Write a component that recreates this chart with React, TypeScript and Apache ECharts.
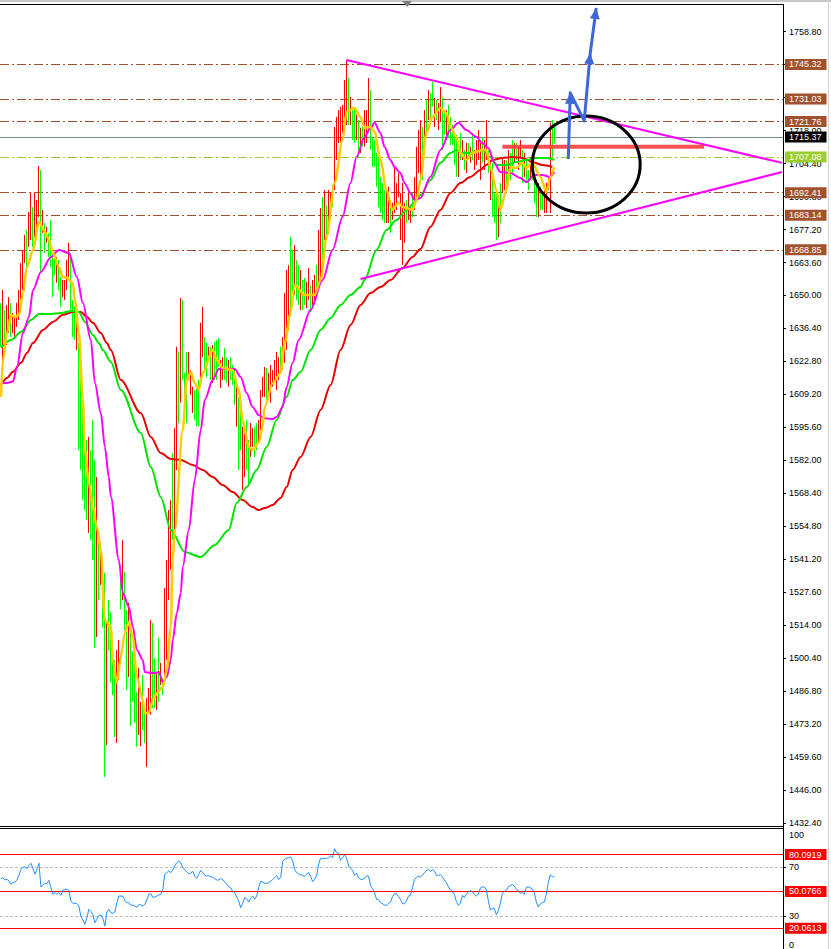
import React, { useEffect, useRef } from 'react';
import * as echarts from 'echarts';

const FONT = "'Liberation Sans', Arial, sans-serif";

// ---- axis ticks ----
const priceTicks = [1432.4, 1446.0, 1459.6, 1473.2, 1486.8, 1500.4, 1514.0, 1527.6, 1541.2, 1554.8, 1568.4, 1582.0, 1595.6, 1609.2, 1622.8, 1636.4, 1650.0, 1663.6, 1677.2, 1690.8, 1704.4, 1718.0, 1731.6, 1745.2, 1758.8];
const rsiTicks = [30, 70];

// ---- price bars (high / low / direction R=up G=down) ----
const barHigh = [
  1646.9, 1652.3, 1644.0, 1646.1, 1649.4, 1646.9, 1642.8, 1641.1, 1646.9, 1652.3,
  1663.4, 1668.8, 1675.0, 1677.0, 1684.4, 1692.3, 1686.5, 1692.3, 1689.4, 1703.4,
  1701.8, 1685.3, 1679.9, 1678.3, 1675.8, 1681.1, 1668.8, 1666.7, 1665.9, 1664.6,
  1657.6, 1656.4, 1656.4, 1664.6, 1671.7, 1667.5, 1648.1, 1645.3, 1641.1, 1630.4,
  1623.4,
  1613.9, 1594.5, 1590.4, 1591.6, 1586.3, 1598.6, 1582.1, 1575.1, 1549.1, 1547.9,
  1535.5, 1535.5, 1515.3, 1524.4, 1519.4, 1507.9, 1499.6, 1503.8, 1507.9, 1533.9,
  1549.1, 1535.9, 1520.3, 1523.2, 1513.3, 1503.0, 1501.7, 1486.4, 1496.3, 1482.3,
  1493.5, 1480.3, 1484.0, 1488.1, 1516.1, 1514.9, 1500.5, 1494.7, 1508.7, 1498.4,
  1492.2, 1529.3,
  1540.9, 1561.5, 1565.6, 1585.0, 1595.3, 1628.8, 1626.7, 1649.0, 1648.1, 1618.0,
  1626.7, 1626.7, 1619.3, 1612.3, 1611.0, 1612.3, 1615.1, 1638.7, 1645.3, 1632.9,
  1630.4, 1628.8, 1628.8, 1629.6, 1630.8, 1631.6, 1632.5, 1623.4, 1624.6, 1628.3,
  1624.2, 1623.4, 1624.6, 1621.3, 1620.1, 1615.1, 1608.1, 1602.8,
  1595.8, 1593.3, 1598.6, 1590.4, 1597.4, 1595.3, 1595.8, 1597.4, 1598.6, 1611.0,
  1616.4, 1620.5, 1620.1, 1618.0, 1621.3, 1619.3, 1623.4, 1626.7, 1624.6, 1628.8,
  1632.9, 1651.0, 1660.5, 1662.6, 1674.1,
  1668.8, 1670.8, 1664.6, 1662.6, 1660.5, 1656.4, 1657.2, 1655.6, 1661.3, 1654.3,
  1656.4, 1658.5, 1662.6, 1677.0, 1686.1, 1690.6, 1693.5, 1687.3, 1693.5, 1692.7,
  1695.6, 1719.5, 1723.6, 1726.5, 1727.8,
  1728.6, 1738.9, 1747.1, 1739.7, 1731.9, 1727.8, 1727.3, 1724.5, 1722.4, 1719.1,
  1719.5, 1726.5, 1726.5, 1739.7, 1734.8, 1715.4, 1714.1, 1708.8, 1707.1, 1698.9,
  1696.4, 1693.5, 1693.5, 1694.8, 1688.2, 1688.2, 1703.0, 1696.4, 1700.5, 1692.3,
  1696.4, 1688.2, 1689.4, 1693.5, 1686.5, 1692.3, 1698.9, 1711.3, 1718.3, 1722.4,
  1719.5, 1726.5, 1730.6, 1734.8, 1733.5, 1738.1, 1731.5, 1730.6, 1729.4, 1736.0,
  1731.9, 1726.5, 1726.5, 1728.6, 1723.6, 1720.3, 1717.0, 1716.2, 1712.9, 1717.0,
  1714.1, 1710.0, 1712.9, 1712.9, 1711.3, 1717.0, 1710.0, 1714.1, 1718.3, 1712.9,
  1715.4, 1714.1, 1722.4, 1710.0, 1705.9, 1704.7, 1692.3, 1693.5, 1689.4, 1696.4,
  1707.1, 1705.9, 1705.9, 1710.0, 1708.8, 1714.1, 1712.9, 1712.9, 1711.3, 1714.1,
  1710.0, 1708.8, 1705.9, 1701.8, 1707.1, 1708.8, 1700.5, 1696.4, 1696.4, 1694.8,
  1692.3, 1693.5, 1696.4, 1698.9, 1721.2, 1722.4, 1721.2,
];
const barLow = [
  1628.8, 1619.3, 1628.8, 1629.6, 1634.5, 1632.9, 1634.5, 1632.9, 1637.0, 1639.9,
  1648.1, 1652.3, 1663.4, 1660.5, 1670.0, 1672.9, 1670.0, 1674.1, 1675.8, 1682.4,
  1659.3, 1675.8, 1667.5, 1671.7, 1665.9, 1661.8, 1649.4, 1658.5, 1655.2, 1652.3,
  1645.3, 1649.4, 1648.1, 1652.3, 1657.6, 1644.0, 1632.9, 1631.6, 1627.5, 1586.3,
  1578.0,
  1565.6, 1561.5, 1557.4, 1552.0, 1549.1, 1540.9, 1504.6, 1509.1, 1524.4, 1530.6,
  1512.9, 1451.4, 1464.6, 1503.8, 1490.6, 1485.2, 1467.9, 1465.4, 1491.4, 1520.7,
  1524.4, 1512.0, 1487.3, 1492.6, 1472.4, 1482.3, 1473.7, 1463.8, 1468.7, 1464.2,
  1470.8, 1465.4, 1455.5, 1478.2, 1477.0, 1479.8, 1479.8, 1479.0, 1482.3, 1489.3,
  1485.2, 1491.4,
  1499.6, 1524.4, 1536.8, 1549.1, 1553.3, 1578.0, 1597.4, 1605.7, 1615.1, 1601.5,
  1597.4, 1615.1, 1609.0, 1601.5, 1598.6, 1595.8, 1595.8, 1613.9, 1624.6, 1618.0,
  1616.4, 1623.4, 1615.1, 1613.9, 1615.1, 1615.1, 1620.5, 1611.8, 1615.1, 1615.1,
  1613.9, 1612.3, 1615.1, 1613.1, 1604.8, 1595.8, 1578.0, 1586.3,
  1569.8, 1575.1, 1578.0, 1571.8, 1583.4, 1587.5, 1583.4, 1586.3, 1589.2, 1594.5,
  1608.1, 1608.1, 1606.9, 1608.1, 1605.7, 1612.3, 1613.9, 1611.0, 1615.1, 1618.0,
  1619.3, 1622.2, 1627.5, 1635.8, 1642.8,
  1648.1, 1650.2, 1648.1, 1646.1, 1644.0, 1644.0, 1646.1, 1644.8, 1648.1, 1643.2,
  1646.1, 1648.1, 1650.2, 1652.3, 1656.4, 1664.6, 1672.9, 1675.0, 1679.9, 1684.0,
  1686.5, 1693.5, 1705.9, 1712.9, 1711.3,
  1717.0, 1720.3, 1720.3, 1720.3, 1720.3, 1714.1, 1712.9, 1714.1, 1707.1, 1708.8,
  1711.3, 1711.3, 1712.9, 1717.0, 1710.0, 1703.0, 1703.0, 1694.8, 1686.5, 1684.0,
  1681.1, 1679.9, 1679.9, 1679.9, 1675.8, 1681.1, 1684.0, 1685.3, 1690.6, 1672.9,
  1662.6, 1671.7, 1679.9, 1681.1, 1679.9, 1682.4, 1685.3, 1690.6, 1700.5, 1697.6,
  1697.6, 1710.0, 1717.0, 1722.4, 1721.2, 1727.8, 1719.5, 1722.4, 1718.3, 1721.6,
  1710.0, 1716.2, 1714.1, 1715.0, 1712.1, 1712.1, 1703.8, 1698.9, 1698.9, 1705.9,
  1705.9, 1701.8, 1700.5, 1705.9, 1704.7, 1705.9, 1701.8, 1703.8, 1705.9, 1697.6,
  1704.7, 1701.8, 1705.9, 1700.5, 1689.4, 1682.4, 1679.9, 1672.9, 1674.1, 1679.9,
  1692.3, 1693.5, 1693.5, 1698.9, 1697.6, 1700.5, 1704.7, 1705.9, 1701.8, 1707.1,
  1696.4, 1698.9, 1696.4, 1693.5, 1697.6, 1697.6, 1688.2, 1682.4, 1682.4, 1685.3,
  1685.3, 1684.0, 1684.0, 1693.5, 1684.0, 1707.1, 1712.9,
];
const barDirs =
  'GRGRRGRRRR' + 'RRRGRRGRRR' + 'GRGRGGGGRG' + 'GRRRRGGGRG' + 'G' +
  'GGGRGGGRGR' + 'GGRGGGGRRG' + 'RGGRGGGGRR' + 'GGRRRGGRGR' + 'GR' +
  'RRRGRRGRGG' + 'GRRRGGGRRG' + 'GRGRGGGRRG' + 'GRGGGRGG' +
  'RRGGRRGGRR' + 'RRGRRRRRRG' + 'RRRRG' +
  'GRGGRGGRRG' + 'RRGRRGRGRR' + 'GRRRR' +
  'RRRGRGGRGR' + 'GRRRGGGGGG' + 'GGRRGRRRRR' + 'RRGRRGRRRR' +
  'GRGRGGRGRR' + 'GGRGGGGGRG' + 'RGRGRGRRRR' + 'GRRGRGGGRG' + 'RRGRGGRGRR' + 'GRGGRGGGRG' + 'GRRRRGG';

// ---- moving averages [bar index, price] ----
const maYellow = [
  [0, 1608.1], [1, 1623.4], [3, 1634.5], [5, 1641.9], [7, 1641.1], [9, 1641.9], [11, 1651.0], [13, 1661.7], [16, 1668.8], [19, 1680.3],
  [22, 1676.2], [24, 1672.9], [26, 1667.5], [29, 1661.7], [31, 1657.6], [33, 1657.2], [36, 1655.1], [37, 1648.1], [39, 1634.5], [41, 1606.9],
  [42, 1586.3], [44, 1572.6], [46, 1562.7], [48, 1554.5], [50, 1545.0], [52, 1516.1], [55, 1513.3], [56, 1499.6],
  [58, 1490.2], [60, 1500.9], [62, 1510.8], [64, 1515.3], [66, 1509.1], [68, 1492.6], [71, 1483.1], [72, 1477.8], [74, 1477.8], [76, 1483.1],
  [78, 1486.0], [81, 1488.5], [83, 1495.5], [85, 1513.3], [86, 1540.9], [87, 1553.3], [91, 1594.5], [93, 1615.1], [95, 1618.4], [97, 1613.9],
  [99, 1611.0], [101, 1618.0], [106, 1627.5], [108, 1623.4], [111, 1620.1], [116, 1619.3], [119, 1611.0], [121, 1598.6], [124, 1587.5], [126, 1586.3],
  [129, 1589.2], [131, 1595.8], [132, 1604.0], [136, 1613.9], [140, 1618.0], [142, 1630.4], [145, 1642.8], [147, 1654.3], [152, 1650.2], [157, 1650.2],
  [160, 1656.4], [163, 1674.1], [167, 1696.4], [171, 1714.1], [173, 1725.7], [177, 1727.3], [180, 1723.6], [182, 1719.1], [185, 1719.5], [187, 1717.5],
  [190, 1705.9], [193, 1693.5], [196, 1685.3], [199, 1688.2], [201, 1686.5], [206, 1685.3], [208, 1689.4], [210, 1697.6], [213, 1717.0], [216, 1723.6],
  [220, 1727.3], [223, 1725.3], [225, 1719.5], [228, 1715.4], [230, 1708.8], [233, 1705.9], [236, 1708.8], [241, 1710.0], [243, 1710.0], [245, 1703.0],
  [248, 1693.5], [250, 1685.3], [253, 1693.5], [255, 1703.0], [258, 1702.6], [261, 1704.7], [263, 1702.6], [266, 1704.7], [270, 1698.9], [273, 1692.7],
  [275, 1698.9], [277, 1703.0],
];
const maMagenta = [
  [0, 1613.9], [3, 1613.9], [6, 1614.5], [8, 1620.5], [11, 1634.5], [14, 1641.1], [16, 1652.3], [20, 1659.7], [25, 1665.9], [29, 1668.8],
  [34, 1667.5], [38, 1657.6], [41, 1646.9], [45, 1631.6], [47, 1613.9], [50, 1601.5], [52, 1587.5], [54, 1575.1], [55, 1566.9], [59, 1540.9],
  [61, 1527.3], [64, 1521.5], [66, 1513.3], [68, 1503.8],
  [71, 1499.6], [72, 1494.7], [75, 1494.3], [77, 1494.3], [79, 1494.7], [81, 1490.6], [83, 1492.6], [85, 1499.6], [86, 1507.9], [88, 1519.0],
  [90, 1527.3], [91, 1538.0], [94, 1553.3], [97, 1573.9], [100, 1594.5], [102, 1606.9], [106, 1615.1], [109, 1619.7], [113, 1619.7], [117, 1619.7],
  [120, 1616.4], [123, 1609.8], [126, 1604.0], [129, 1600.7], [132, 1599.4], [136, 1599.0], [138, 1599.9], [141, 1604.0], [143, 1612.3], [146, 1622.2],
  [149, 1631.6], [155, 1644.0], [161, 1656.4], [166, 1668.8], [171, 1682.4], [175, 1696.4], [178, 1707.1], [182, 1715.4], [185, 1719.1], [187, 1721.2],
  [190, 1717.0], [192, 1711.3], [195, 1705.9], [197, 1703.0], [200, 1700.5], [202, 1696.4], [205, 1692.3], [207, 1689.4], [210, 1690.2], [215, 1698.9],
  [220, 1710.0], [225, 1718.3], [229, 1721.2], [233, 1718.3], [238, 1715.4], [241, 1712.9], [244, 1710.8], [247, 1704.7], [250, 1700.9], [255, 1700.5],
  [260, 1698.5], [263, 1696.8], [267, 1699.7], [271, 1699.7], [275, 1698.9], [277, 1700.9],
];
const maGreen = [
  [0, 1628.4], [5, 1631.6], [10, 1634.9], [15, 1639.9], [19, 1642.4], [25, 1642.4], [30, 1642.8], [35, 1643.6], [39, 1643.2], [42, 1639.1],
  [46, 1633.7], [49, 1630.4], [51, 1627.5], [55, 1622.6], [60, 1611.0], [70, 1593.3], [75, 1579.2], [80, 1566.9], [85, 1553.3], [92, 1544.2],
  [100, 1542.1], [107, 1547.1], [114, 1553.3],
  [118, 1564.4], [123, 1571.0], [128, 1578.0], [133, 1587.5], [138, 1598.6], [143, 1608.1], [146, 1615.1], [150, 1618.4], [155, 1627.5], [160, 1635.8],
  [165, 1640.7], [170, 1646.1], [175, 1650.2], [180, 1653.5], [182, 1656.4], [188, 1668.8], [193, 1677.0], [198, 1681.1], [203, 1685.3], [207, 1688.2],
  [210, 1691.4], [215, 1697.6], [220, 1704.7], [225, 1708.8], [228, 1710.0], [231, 1708.8], [236, 1708.8], [241, 1710.0], [245, 1707.1], [248, 1703.8],
  [253, 1703.8], [258, 1705.1], [263, 1705.9], [268, 1706.7], [273, 1706.7], [277, 1705.9],
];
const maRed = [
  [0, 1613.1], [3, 1616.0], [6, 1618.5], [10, 1622.2], [13, 1626.3], [16, 1630.4], [21, 1635.8], [26, 1639.1], [31, 1642.0], [36, 1643.2],
  [40, 1643.2], [43, 1641.1], [46, 1638.7], [50, 1634.5], [53, 1630.4], [55, 1627.5], [60, 1615.1], [70, 1601.5], [75, 1591.6], [80, 1585.0],
  [85, 1582.5], [90, 1582.1], [96, 1580.1],
  [101, 1578.0], [106, 1575.1], [111, 1571.8], [116, 1568.9], [121, 1565.6], [126, 1562.7], [129, 1561.5], [132, 1562.3], [136, 1563.6], [140, 1566.5],
  [143, 1571.0], [146, 1578.0], [150, 1583.4], [155, 1591.6], [160, 1602.8], [165, 1613.1], [170, 1627.5], [175, 1637.8], [180, 1646.1], [185, 1651.0],
  [190, 1653.5], [195, 1656.4], [201, 1661.3], [206, 1665.9], [210, 1669.2], [215, 1678.3], [220, 1685.3], [225, 1692.3], [230, 1696.4], [235, 1698.9],
  [240, 1701.8], [243, 1703.8], [246, 1705.9], [251, 1706.7], [256, 1707.1], [261, 1706.7], [266, 1705.1], [271, 1703.8], [276, 1703.0],
];

// ---- RSI ----
const rsiValues = [
  60.5, 61.3, 59.4, 59.9, 58.6, 55.9, 57.2, 57.8, 59.4, 63.2,
  68.1, 69.7, 70.3, 68.6, 71.3, 73.0, 68.6, 64.0, 68.1, 73.0,
  53.7, 55.0, 56.7, 56.4, 59.1, 53.1, 47.7, 49.1, 47.7, 49.1,
  46.9, 51.2, 51.8, 51.8, 50.7, 42.0, 40.4, 40.4, 40.1, 38.2,
  29.5, 26.8, 23.2, 28.7, 35.5, 33.8, 31.4, 24.6, 27.3, 30.6,
  30.9, 28.1, 21.9, 33.3, 35.5, 32.8, 32.2, 33.3, 40.9, 46.3,
  46.3, 46.3, 42.5, 40.9, 40.9, 38.7, 39.0, 38.2, 37.1, 39.3,
  39.3, 38.2, 39.5, 43.1, 47.7, 48.2, 45.3, 45.5, 46.3, 47.2,
  47.7, 51.8, 64.0, 65.4, 66.7, 65.4, 67.5, 70.8, 73.5, 74.9,
  73.5, 69.4, 68.1, 65.9, 64.5, 65.1, 66.4, 62.6, 60.7, 64.0,
  67.3, 65.4, 63.2, 62.6, 62.9, 62.1, 61.6, 60.5, 59.4, 59.4,
  60.5, 59.7, 57.8, 56.1, 53.9, 52.9, 50.1, 49.1, 45.5, 42.3,
  36.8, 40.4, 45.0, 44.2, 41.5, 44.7, 46.3, 43.6, 46.3, 53.1,
  58.3, 57.8, 56.7, 56.7, 57.2, 58.3, 59.7, 61.3, 62.9, 59.9,
  61.3, 74.3, 76.2, 77.0, 77.6, 78.1, 74.9, 68.1, 65.4, 64.3,
  63.7, 63.2, 62.1, 64.0, 65.4, 62.6, 58.0, 59.9, 62.6, 72.2,
  77.0, 77.0, 76.8, 77.0, 77.6, 78.9, 77.6, 84.9, 81.7, 81.1,
  75.4, 77.6, 79.8, 77.6, 70.8, 68.9, 67.3, 63.2, 64.8, 61.0,
  59.9, 59.9, 60.5, 62.9, 62.6, 55.0, 52.3, 49.1, 43.6, 43.6,
  40.9, 40.1, 39.0, 38.7, 40.4, 41.2, 45.8, 48.2, 48.2, 46.1,
  43.6, 40.1, 40.1, 42.3, 46.3, 46.9, 53.1, 59.9, 61.3, 62.6,
  61.8, 63.2, 65.4, 67.0, 68.1, 66.4, 67.8, 66.7, 63.2, 63.2,
  63.7, 62.1, 59.4, 57.2, 53.9, 51.2, 49.9, 47.7, 41.7, 38.7,
  40.4, 46.9, 45.0, 48.0, 49.9, 50.7, 49.9, 47.7, 46.3, 47.7,
  52.9, 53.9, 53.7, 51.2, 42.3, 35.0, 36.3, 36.0, 31.1, 34.4,
  40.4, 48.5, 50.1, 51.0, 53.9, 54.8, 55.6, 54.5, 51.5, 50.7,
  48.5, 49.1, 47.7, 53.4, 53.7, 53.1, 52.0, 49.1, 41.5, 37.4,
  39.8, 40.9, 41.5, 47.7, 57.2, 63.7, 62.1, 62.1,
];

// ---- levels and drawings ----
const brownLevels = [1745.32, 1731.03, 1721.76, 1692.41, 1683.14, 1668.85];
const greenLevel = 1707.08;
const bidPrice = 1715.37;
const rsiLevels = [80.0919, 50.0766, 20.0613];
const rsiGuides = [70, 30];
const upperTrend = [[173, 1747.1], [391, 1704.7]];
const lowerTrend = [[180, 1656.8], [391, 1700.9]];
const resistance = [[251, 1711.4], [352, 1711.4]];
const circleCenter = [293, 1704.0];
const circleEdge = [320, 1684.0];
const arrowPath = [[284, 1706.3], [285, 1733.6], [292, 1722.0], [295, 1750.0], [298, 1768.6]];
const arrowTips = [1, 3, 4];
const totalSlots = 392;

const categories = Array.from({ length: totalSlots }, (_, i) => String(i));
const barData = barHigh.map((h, i) => [i, barLow[i], h, barDirs[i] === 'R' ? 1 : 0]);

const DASHDOT = [9, 3, 2, 3];

function tagLabel(text: string, bg: string) {
  return {
    show: true,
    position: 'end',
    distance: 2,
    formatter: text,
    color: '#ffffff',
    backgroundColor: bg,
    padding: [1, 5, 0, 4],
    fontSize: 9,
    lineHeight: 10,
    fontFamily: FONT,
  };
}

function buildOption() {
  const levelData: any[] = brownLevels.map((v) => ({
    yAxis: v,
    lineStyle: { color: '#a0522d', width: 1, type: DASHDOT },
    label: tagLabel(v.toFixed(2), '#a0522d'),
  }));
  levelData.push({
    yAxis: greenLevel,
    lineStyle: { color: '#9acd32', width: 1, type: DASHDOT },
    label: tagLabel(greenLevel.toFixed(2), '#9acd32'),
  });
  levelData.push({
    yAxis: bidPrice,
    lineStyle: { color: '#778899', width: 1, type: 'solid' },
    label: tagLabel(bidPrice.toFixed(2), '#000000'),
  });

  const rsiMarks: any[] = rsiLevels.map((v) => ({
    yAxis: v,
    lineStyle: { color: '#ff0000', width: 1.2, type: 'solid' },
    label: tagLabel(v.toFixed(4), '#ff0000'),
  }));
  rsiGuides.forEach((v) => {
    rsiMarks.push({
      yAxis: v,
      lineStyle: { color: '#c0c0c0', width: 1, type: [3, 2] },
      label: { show: false },
    });
  });

  const maSeries = (data: number[][], color: string, width: number, z: number) => ({
    type: 'line',
    xAxisIndex: 0,
    yAxisIndex: 0,
    data,
    showSymbol: false,
    symbol: 'none',
    smooth: 0.3,
    smoothMonotone: 'x',
    lineStyle: { color, width },
    silent: true,
    z,
  });

  return {
    animation: false,
    backgroundColor: '#ffffff',
    grid: [
      { left: 0, top: 5, width: 783, height: 821 },
      { left: 0, top: 828.5, width: 783, height: 120.5 },
    ],
    xAxis: [
      { type: 'category', gridIndex: 0, data: categories, boundaryGap: true, show: false },
      { type: 'category', gridIndex: 1, data: categories, boundaryGap: true, show: false },
    ],
    yAxis: [
      {
        type: 'value', gridIndex: 0, position: 'right', min: 1431.16, max: 1769.82,
        axisLine: { show: false },
        axisTick: { show: true, customValues: priceTicks, length: 3, lineStyle: { color: '#000' } },
        axisLabel: {
          show: true, customValues: priceTicks, formatter: (v: number) => v.toFixed(2),
          color: '#000', fontSize: 9, fontFamily: FONT, margin: 6,
        },
        splitLine: { show: false },
      },
      {
        type: 'value', gridIndex: 1, position: 'right', min: 3.13, max: 101.36,
        axisLine: { show: false },
        axisTick: { show: true, customValues: rsiTicks, length: 3, lineStyle: { color: '#000' } },
        axisLabel: {
          show: true, customValues: rsiTicks, formatter: (v: number) => String(v),
          color: '#000', fontSize: 9, fontFamily: FONT, margin: 6,
        },
        splitLine: { show: false },
      },
    ],
    graphic: [
      { type: 'rect', silent: true, shape: { x: 0, y: 0, width: 831, height: 2 }, style: { fill: '#c8c8c8' } },
      { type: 'line', silent: true, shape: { x1: 0, y1: 4.5, x2: 783.5, y2: 4.5 }, style: { stroke: '#000', lineWidth: 1 } },
      { type: 'line', silent: true, shape: { x1: 0, y1: 826.5, x2: 783.5, y2: 826.5 }, style: { stroke: '#000', lineWidth: 1 } },
      { type: 'line', silent: true, shape: { x1: 0, y1: 828.5, x2: 783.5, y2: 828.5 }, style: { stroke: '#000', lineWidth: 1 } },
      { type: 'line', silent: true, shape: { x1: 783.5, y1: 4, x2: 783.5, y2: 949 }, style: { stroke: '#000', lineWidth: 1 } },
      { type: 'line', silent: true, shape: { x1: 828.5, y1: 0, x2: 828.5, y2: 949 }, style: { stroke: '#d4d4d4', lineWidth: 1 } },
      { type: 'polygon', silent: true, shape: { points: [[402, 1], [412, 1], [407, 7]] }, style: { fill: '#7f7f7f' } },
      { type: 'text', silent: true, x: 789, y: 835, style: { text: '100', fill: '#000', fontSize: 9, fontFamily: FONT, verticalAlign: 'middle' } },
      { type: 'text', silent: true, x: 789, y: 945, style: { text: '0', fill: '#000', fontSize: 9, fontFamily: FONT, verticalAlign: 'middle' } },
    ],
    series: [
      {
        name: 'levels',
        type: 'line',
        xAxisIndex: 0,
        yAxisIndex: 0,
        data: [],
        clip: false,
        silent: true,
        z: 1,
        markLine: { silent: true, symbol: ['none', 'none'], animation: false, z: 1, data: levelData },
      },
      {
        name: 'bars',
        type: 'custom',
        xAxisIndex: 0,
        yAxisIndex: 0,
        data: barData,
        encode: { x: 0, y: [1, 2] },
        silent: true,
        z: 2,
        renderItem: (params: any, api: any) => {
          const i = api.value(0);
          const lo = api.value(1);
          const hi = api.value(2);
          const up = api.value(3);
          const pHi = api.coord([i, hi]);
          const pLo = api.coord([i, lo]);
          const x = Math.floor(pHi[0]);
          return {
            type: 'rect',
            shape: { x, y: pHi[1], width: 1, height: Math.max(1, pLo[1] - pHi[1]) },
            style: { fill: up ? '#ff0000' : '#00ff00', stroke: null, lineWidth: 0 },
          };
        },
      },
      maSeries(maRed, '#e80000', 2, 3),
      maSeries(maGreen, '#00e400', 2, 3),
      maSeries(maMagenta, '#ff00ff', 2, 3),
      maSeries(maYellow, '#ffcc00', 2.5, 3),
      {
        type: 'line', xAxisIndex: 0, yAxisIndex: 0, data: upperTrend, showSymbol: false, symbol: 'none',
        lineStyle: { color: '#ff00ff', width: 2 }, silent: true, z: 4,
      },
      {
        type: 'line', xAxisIndex: 0, yAxisIndex: 0, data: lowerTrend, showSymbol: false, symbol: 'none',
        lineStyle: { color: '#ff00ff', width: 2 }, silent: true, z: 4,
      },
      {
        type: 'line', xAxisIndex: 0, yAxisIndex: 0, data: resistance, showSymbol: false, symbol: 'none',
        lineStyle: { color: '#ff3c3c', width: 4, opacity: 0.9 }, silent: true, z: 5,
      },
      {
        type: 'custom', xAxisIndex: 0, yAxisIndex: 0, data: [[circleCenter[0], circleCenter[1]]], silent: true, z: 6,
        renderItem: (params: any, api: any) => {
          const c = api.coord(circleCenter);
          const e = api.coord(circleEdge);
          return {
            type: 'ellipse',
            shape: { cx: c[0], cy: c[1], rx: Math.abs(e[0] - c[0]), ry: Math.abs(e[1] - c[1]) },
            style: { fill: 'none', stroke: '#000000', lineWidth: 3 },
          };
        },
      },
      {
        type: 'custom', xAxisIndex: 0, yAxisIndex: 0, data: [[arrowPath[0][0], arrowPath[0][1]]], silent: true, z: 7, clip: false,
        renderItem: (params: any, api: any) => {
          const pts = arrowPath.map((p) => api.coord(p));
          const children: any[] = [
            { type: 'polyline', shape: { points: pts }, style: { stroke: '#3d68d8', lineWidth: 3, fill: 'none', lineJoin: 'round' } },
          ];
          arrowTips.forEach((k) => {
            const tip = pts[k];
            const from = pts[k - 1];
            const dx = tip[0] - from[0];
            const dy = tip[1] - from[1];
            const len = Math.sqrt(dx * dx + dy * dy) || 1;
            const ux = dx / len;
            const uy = dy / len;
            const L = 11;
            const hw = 5;
            const bx = tip[0] - ux * L;
            const by = tip[1] - uy * L;
            children.push({
              type: 'polygon',
              shape: { points: [[tip[0], tip[1]], [bx - uy * hw, by + ux * hw], [bx + uy * hw, by - ux * hw]] },
              style: { fill: '#3d68d8' },
            });
          });
          return { type: 'group', children };
        },
      },
      {
        name: 'rsi',
        type: 'line',
        xAxisIndex: 1,
        yAxisIndex: 1,
        data: rsiValues,
        showSymbol: false,
        symbol: 'none',
        clip: false,
        lineStyle: { color: '#1e90ff', width: 1 },
        silent: true,
        z: 3,
        markLine: { silent: true, symbol: ['none', 'none'], animation: false, z: 2, data: rsiMarks },
      },
    ],
  };
}

export default function App() {
  const ref = useRef<HTMLDivElement>(null);
  useEffect(() => {
    if (!ref.current) return;
    const chart = echarts.init(ref.current, null, { renderer: 'svg', width: 831, height: 949 });
    chart.setOption(buildOption() as any);
    return () => {
      chart.dispose();
    };
  }, []);
  return (
    <div
      ref={ref}
      style={{ position: 'fixed', left: 0, top: 0, width: 831, height: 949, background: '#ffffff' }}
    />
  );
}
